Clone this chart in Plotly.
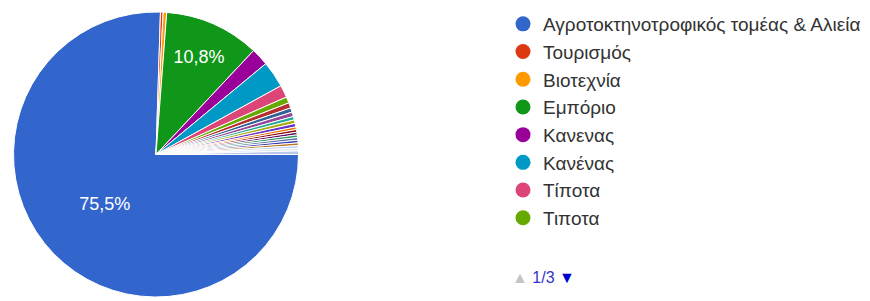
import plotly.graph_objects as go

labels = [
    "Αγροτοκτηνοτροφικός τομέας & Αλιεία", "Τουρισμός", "Βιοτεχνία", "Εμπόριο",
    "Κανενας", "Κανένας", "Τίποτα", "Τιποτα",
    "Γεωργία", "Κτηνοτροφία", "Αλιεία", "Υπηρεσίες", "Οικοδομή", "Δημόσιο",
    "Εκπαίδευση", "Υγεία", "Μεταφορές", "Εστίαση", "Ναυτιλία", "Ελαιοπαραγωγή",
    "Μελισσοκομία", "Εμπόριο - Τουρισμός", "Άλλο", "Δεν ξέρω",
]
values = [
    75.5, 0.3, 0.4, 10.8,
    2.0, 3.0, 1.4, 0.7,
    0.6, 0.5, 0.5, 0.4, 0.4, 0.4,
    0.3, 0.3, 0.3, 0.3, 0.3, 0.3,
    0.3, 0.3, 0.3, 0.4,
]
colors = [
    "#3366cc", "#dc3912", "#ff9900", "#109618", "#990099", "#0099c6", "#dd4477", "#66aa00",
    "#b82e2e", "#316395", "#994499", "#22aa99", "#aaaa11", "#6633cc", "#e67300", "#8b0707",
    "#651067", "#329262", "#5574a6", "#3b3eac", "#b77322", "#c7d3ef", "#dfe6f5", "#b8c8ea",
]
legend_count = 8
page_text = "1/3"

total = sum(values)
templates = ["%{percent:.1%}" if v / total > 0.05 else "" for v in values]

fig = go.Figure()
fig.add_trace(go.Pie(
    labels=labels, values=values, sort=False, direction="clockwise", rotation=90,
    marker=dict(colors=colors, line=dict(color="white", width=1)),
    texttemplate=templates, textposition="inside", insidetextorientation="horizontal",
    textfont=dict(color="white", size=18, family="Arial"),
    showlegend=False, hoverinfo="label+percent",
    domain=dict(x=[5 / 870, 291 / 870], y=[1 - 289 / 301, 1 - 4 / 301]),
))
for i in range(legend_count):
    fig.add_trace(go.Scatter(
        x=[None], y=[None], mode="markers", name=labels[i],
        marker=dict(color=colors[i], size=15, symbol="circle"),
        showlegend=True,
    ))

fig.add_annotation(
    x=502 / 870, y=1 - 269 / 301, xref="paper", yref="paper", xanchor="left", yanchor="middle",
    showarrow=False,
    text=f"<span style='color:#c4c4c4'>▲</span> <span style='color:#3333cc'>{page_text}</span> <span style='color:#0000cc'>▼</span>",
    font=dict(size=16, family="Arial"),
)

fig.update_layout(
    width=870, height=301, margin=dict(l=0, r=0, t=0, b=0, autoexpand=False),
    paper_bgcolor="white", plot_bgcolor="white", separators=",.",
    xaxis=dict(visible=False), yaxis=dict(visible=False),
    legend=dict(x=495 / 870, y=1 - 113 / 301, xanchor="left", yanchor="middle",
                maxheight=400,
                font=dict(size=19, family="Arial", color="#333333"),
                bgcolor="rgba(0,0,0,0)", tracegroupgap=0),
)
fig.write_html("out.html")
